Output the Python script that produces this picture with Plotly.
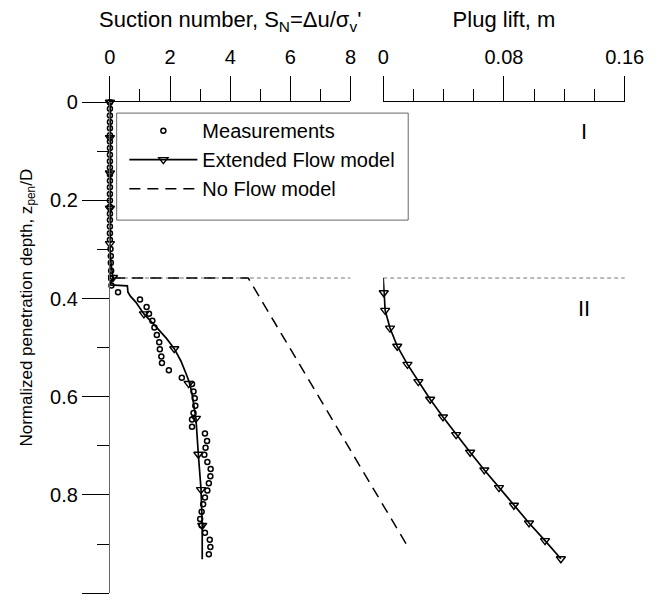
import plotly.graph_objects as go

# ---------------- data ----------------
# Measurements: suction number S_N vs normalized depth
meas_depth = [0.0, 0.013, 0.027, 0.040, 0.053, 0.067, 0.080, 0.093, 0.107, 0.120,
              0.133, 0.147, 0.160, 0.173, 0.187, 0.200, 0.213, 0.227, 0.240, 0.253,
              0.267, 0.280, 0.299, 0.313, 0.327, 0.343, 0.359, 0.373,
              0.387, 0.402, 0.417, 0.431, 0.445, 0.459, 0.474, 0.489, 0.503, 0.518,
              0.531, 0.546, 0.561, 0.574, 0.589, 0.603, 0.618, 0.633, 0.646, 0.661,
              0.675, 0.690, 0.704, 0.718, 0.733, 0.747, 0.762, 0.776, 0.791, 0.805,
              0.819, 0.834, 0.849, 0.862, 0.877, 0.891, 0.906, 0.921]
meas_sn = [0.0, 0.0, 0.0, 0.0, 0.0, 0.0, 0.0, 0.0, 0.0, 0.0,
           0.0, 0.0, 0.0, 0.0, 0.0, 0.0, 0.0, 0.0, 0.0, 0.0,
           0.0, 0.0, 0.02, 0.03, 0.03, 0.04, 0.04, 0.05,
           0.27, 1.00, 1.22, 1.30, 1.41, 1.48, 1.56, 1.64, 1.66, 1.71,
           1.73, 1.96, 2.39, 2.73, 2.78, 2.82, 2.84, 2.78, 2.73, 2.73,
           3.16, 3.23, 3.18, 3.14, 3.24, 3.35, 3.34, 3.29, 3.24, 3.16,
           3.10, 3.05, 3.00, 3.05, 3.16, 3.32, 3.34, 3.29]

# Extended Flow model: suction number curve
ef_depth = [0.0, 0.300, 0.330, 0.357, 0.372, 0.374, 0.387, 0.395, 0.407, 0.431,
            0.459, 0.481, 0.502, 0.527, 0.554, 0.574, 0.594, 0.627, 0.644, 0.717,
            0.789, 0.862, 0.931]
ef_sn = [0.0, 0.0, 0.04, 0.10, 0.0, 0.58, 0.60, 0.68, 0.86, 1.13,
         1.56, 1.88, 2.14, 2.36, 2.54, 2.66, 2.73, 2.82, 2.86, 2.94,
         3.03, 3.07, 3.07]
# Extended Flow model: marker positions on the suction curve
ef_mark_depth = [0.0, 0.072, 0.144, 0.216, 0.288, 0.357, 0.431, 0.502, 0.573,
                 0.644, 0.717, 0.789, 0.862]
ef_mark_sn = [0.0, 0.0, 0.0, 0.0, 0.0, 0.10, 1.13, 2.14, 2.62, 2.86, 2.94, 3.03, 3.07]

# Extended Flow model: plug lift (m)
lift_depth = [0.358, 0.388, 0.424, 0.460, 0.497, 0.534, 0.569, 0.605, 0.641, 0.677,
              0.713, 0.749, 0.785, 0.821, 0.857, 0.893, 0.930]
lift_m = [0.0, 0.0004, 0.0013, 0.0045, 0.0093, 0.0161, 0.0233, 0.0311, 0.0396, 0.0483,
          0.0576, 0.0670, 0.0767, 0.0866, 0.0966, 0.1072, 0.1177]

# No Flow model: suction number
nf_depth = [0.0, 0.358, 0.358, 0.911]
nf_sn = [0.0, 0.0, 4.60, 9.96]

# Boundary between stage I and II
boundary_depth = [0.358]
stage_labels = ["I", "II"]
stage_depth = [0.06, 0.42]
stage_lift = [0.1333, 0.1333]

sn_ticks = [0, 2, 4, 6, 8]
lift_label_ticks = [0, 0.08, 0.16]
lift_unlabelled_ticks = [0.04, 0.12]
depth_ticks = [0, 0.2, 0.4, 0.6, 0.8, 1]

# ---------------- figure ----------------
W, H = 662, 601
FONT = "Liberation Sans, Arial, Helvetica, sans-serif"

# pixel layout
left_x0, left_x1 = 108, 358
right_x0, right_x1 = 392, 643
y_top, y_bot = 93, 593
px_per_sn = (left_x1 - left_x0) / 8.0
wide_range = (right_x1 - left_x0) / px_per_sn

fig = go.Figure()

fig.add_trace(go.Scatter(
    x=meas_sn, y=meas_depth, mode="markers", name="Measurements",
    xaxis="x", yaxis="y", cliponaxis=False,
    marker=dict(symbol="circle-open", size=5, color="black", line=dict(width=1.5)),
))
fig.add_trace(go.Scatter(
    x=ef_sn, y=ef_depth, mode="lines", showlegend=False,
    xaxis="x", yaxis="y", line=dict(color="black", width=1.7),
))
fig.add_trace(go.Scatter(
    x=ef_mark_sn, y=ef_mark_depth, mode="markers", showlegend=False,
    xaxis="x", yaxis="y", cliponaxis=False,
    marker=dict(symbol="triangle-down-open", size=8, color="black", line=dict(width=1.4)),
))
fig.add_trace(go.Scatter(
    x=lift_m, y=lift_depth, mode="lines", showlegend=False,
    xaxis="x2", yaxis="y", line=dict(color="black", width=1.7),
))
fig.add_trace(go.Scatter(
    x=lift_m[1:], y=lift_depth[1:], mode="markers", showlegend=False,
    xaxis="x2", yaxis="y", cliponaxis=False,
    marker=dict(symbol="triangle-down-open", size=8, color="black", line=dict(width=1.4)),
))
# legend proxy for the Extended Flow model
fig.add_trace(go.Scatter(
    x=[None], y=[None], mode="lines+markers", name="Extended Flow model",
    xaxis="x", yaxis="y", line=dict(color="black", width=1.7),
    marker=dict(symbol="triangle-down-open", size=8, color="black", line=dict(width=1.4)),
))
fig.add_trace(go.Scatter(
    x=nf_sn, y=nf_depth, mode="lines", name="No Flow model",
    xaxis="x3", yaxis="y", line=dict(color="black", width=1.5, dash="11px,7px"),
))

for ref in ("x domain", "x2 domain"):
    fig.add_shape(type="line", xref=ref, yref="y", x0=0, x1=1,
                  y0=boundary_depth[0], y1=boundary_depth[0],
                  line=dict(color="#777777", width=1, dash="4px,3px"), layer="below")

# legend frame
fig.add_shape(type="rect", xref="paper", yref="paper",
              x0=115 / W, x1=418 / W, y0=1 - 213 / H, y1=1 - 104 / H,
              line=dict(color="#666666", width=1), fillcolor="white", layer="below")

for lab, d, l in zip(stage_labels, stage_depth, stage_lift):
    fig.add_annotation(x=l, y=d, xref="x2", yref="y", text=lab, showarrow=False,
                       font=dict(size=22, color="black", family=FONT))

fig.add_annotation(x=23 / W, y=1 - 302 / H, xref="paper", yref="paper",
                   xanchor="center", yanchor="middle",
                   text="Normalized penetration depth, z<sub>pen</sub>/D",
                   textangle=-90, showarrow=False,
                   font=dict(size=17, color="black", family=FONT))

axis_common = dict(showgrid=False, zeroline=False, showline=True, linecolor="black",
                   linewidth=1, ticks="outside", tickcolor="black", tickwidth=1,
                   tickfont=dict(size=20, color="black", family=FONT))

fig.update_layout(
    width=W, height=H,
    margin=dict(l=0, r=0, t=0, b=0),
    paper_bgcolor="white", plot_bgcolor="rgba(0,0,0,0)",
    font=dict(family=FONT, color="black", size=20),
    xaxis=dict(domain=[left_x0 / W, left_x1 / W], range=[0, 8], side="top", anchor="y",
               tickvals=sn_ticks, ticklen=25, ticklabelstandoff=4,
               minor=dict(dtick=1, ticklen=12, ticks="outside", tickcolor="black"),
               title=dict(text="Suction number, S<sub>N</sub>=\u0394u/\u03c3<sub>v</sub>'",
                          font=dict(size=22, family=FONT), standoff=12),
               **axis_common),
    xaxis2=dict(domain=[right_x0 / W, right_x1 / W], range=[0, 0.16], side="top", anchor="y",
                tickvals=lift_label_ticks, ticktext=[str(v) for v in lift_label_ticks],
                ticklen=25, ticklabelstandoff=4,
                minor=dict(dtick=0.02, ticklen=12, ticks="outside", tickcolor="black"),
                title=dict(text="Plug lift, m", font=dict(size=22, family=FONT), standoff=12),
                **axis_common),
    xaxis4=dict(overlaying="x2", range=[0, 0.16], side="top", anchor="y",
                tickvals=lift_unlabelled_ticks, ticklen=25, ticks="outside",
                tickcolor="black", tickwidth=1, showticklabels=False,
                showline=False, showgrid=False, zeroline=False),
    xaxis3=dict(domain=[left_x0 / W, right_x1 / W], range=[0, wide_range], anchor="y",
                visible=False),
    yaxis=dict(domain=[1 - y_bot / H, 1 - y_top / H], range=[1, 0], anchor="x",
               tickvals=depth_ticks, ticklen=27,
               minor=dict(dtick=0.1, ticklen=12, ticks="outside", tickcolor="black"),
               **{**axis_common, "linecolor": "#666666"}),
    legend=dict(x=123 / W, y=1 - 102 / H, xanchor="left", yanchor="top",
                bgcolor="rgba(0,0,0,0)", borderwidth=0,
                font=dict(size=20, family=FONT, color="black"),
                itemwidth=68, tracegroupgap=0),
    showlegend=True,
)

fig.write_html("out.html")
